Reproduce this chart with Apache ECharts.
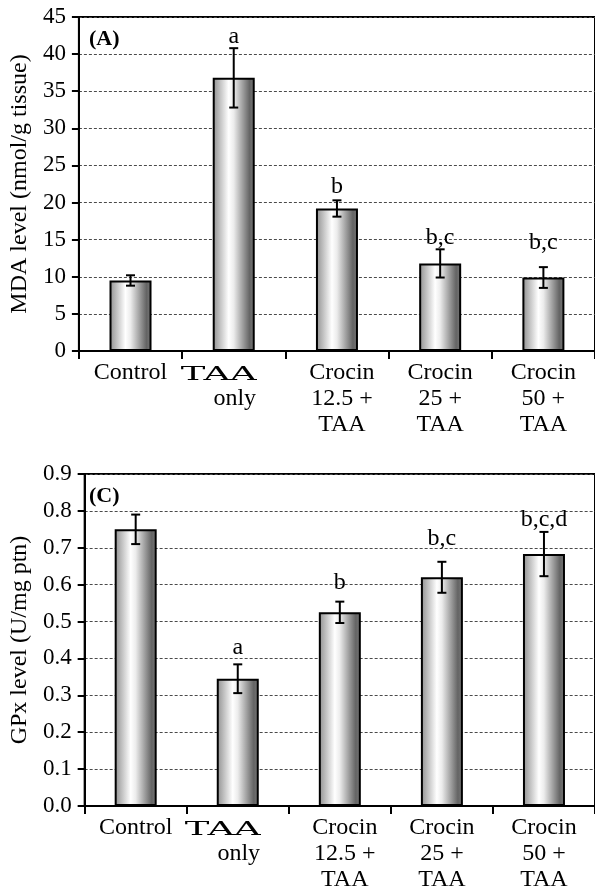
<!DOCTYPE html>
<html><head><meta charset="utf-8">
<script src="https://cdn.jsdelivr.net/npm/echarts@6/dist/echarts.min.js"></script>
<style>html,body{margin:0;padding:0;background:#fff}#c{width:595px;height:894px}</style>
</head><body><div id="c"></div>
<script>
// ---- data ----
const categories = ['Control', 'TAA\nonly', 'Crocin\n12.5 +\nTAA', 'Crocin\n25 +\nTAA', 'Crocin\n50 +\nTAA'];
const mdaMeans  = [9.5, 36.8, 19.2, 11.8, 9.9];
const mdaErrors = [0.7, 4.0, 1.1, 1.9, 1.4];
const mdaLetters = ['', 'a', 'b', 'b,c', 'b,c'];
const gpxMeans  = [0.750, 0.345, 0.525, 0.620, 0.683];
const gpxErrors = [0.040, 0.039, 0.029, 0.042, 0.060];
const gpxLetters = ['', 'a', 'b', 'b,c', 'b,c,d'];
const mdaAxis = { min: 0, max: 45, interval: 5 };
const gpxAxis = { min: 0, max: 0.9, interval: 0.1 };
const panelTags = ['(A)', '(C)'];
const yNames = ['MDA level (nmol/g tissue)', 'GPx level (U/mg ptn)'];

// ---- layout / style ----
const FONT = 'Liberation Serif';
const mdaLetterGap = [0, 4, 7, 5, 17];   // px between letter baseline and error bar top
const gpxLetterGap = [0, 10, 12, 16, 5];

const barFill = new echarts.graphic.LinearGradient(0, 0, 1, 0, [
  { offset: 0, color: '#8e8e8e' },
  { offset: 0.38, color: '#ffffff' },
  { offset: 0.5, color: '#ececec' },
  { offset: 0.88, color: '#646464' },
  { offset: 1, color: '#7a7a7a' }
]);

// category 1's first line ("TAA") is drawn in a wide display face below
function xLabel(value, idx) {
  if (idx === 1) {
    const p = value.split('\n');
    return '{sp| }\n{o|' + p[1] + '}';
  }
  if (idx === 2) {
    return value.split('\n').map(s => '{p|' + s + '}').join('\n');
  }
  return value;
}

const richLabel = {
  sp: { fontFamily: FONT, fontSize: 24, lineHeight: 26, color: '#000' },
  o:  { fontFamily: FONT, fontSize: 24, padding: [0, 0, 0, 2], lineHeight: 26, color: '#000' },
  p:  { fontFamily: FONT, fontSize: 24, padding: [0, 0, 0, 10], lineHeight: 26, color: '#000' }
};

function xAxisCfg(gi) {
  return {
    type: 'category', gridIndex: gi, data: categories,
    axisLine: { lineStyle: { color: '#000', width: 2 } },
    axisTick: { show: true, length: 8, lineStyle: { color: '#000', width: 2 } },
    axisLabel: { interval: 0, margin: 9, fontFamily: FONT, fontSize: 24, color: '#000', lineHeight: 26,
                 formatter: xLabel, rich: richLabel },
    splitLine: { show: false }
  };
}
function yAxisCfg(gi, ax, name, gap, fmt) {
  return {
    type: 'value', gridIndex: gi, min: ax.min, max: ax.max, interval: ax.interval,
    name: name, nameLocation: 'middle', nameGap: gap, nameRotate: 90,
    nameTextStyle: { fontFamily: FONT, fontSize: 24, color: '#000' },
    axisLine: { show: true, lineStyle: { color: '#000', width: 2 } },
    axisTick: { show: true, length: 7, lineStyle: { color: '#000', width: 2 } },
    axisLabel: { margin: 13, fontFamily: FONT, fontSize: 23, color: '#000', formatter: fmt },
    splitLine: { show: true, lineStyle: { color: '#4a4a4a', width: 1, type: [3, 2] } }
  };
}

function errorSeries(gi, means, errs, letters, gaps) {
  return {
    type: 'custom', xAxisIndex: gi, yAxisIndex: gi, z: 10,
    data: means.map((m, i) => [i, m, errs[i]]),
    renderItem: function (params, api) {
      const i = api.value(0), m = api.value(1), e = api.value(2);
      const top = api.coord([i, m + e]);
      const bot = api.coord([i, m - e]);
      const hw = 4.5;
      const st = { stroke: '#000', lineWidth: 2 };
      const children = [
        { type: 'line', shape: { x1: top[0], y1: top[1], x2: bot[0], y2: bot[1] }, style: st },
        { type: 'line', shape: { x1: top[0] - hw, y1: top[1], x2: top[0] + hw, y2: top[1] }, style: st },
        { type: 'line', shape: { x1: bot[0] - hw, y1: bot[1], x2: bot[0] + hw, y2: bot[1] }, style: st }
      ];
      const txt = letters[params.dataIndex];
      if (txt) {
        children.push({ type: 'text', x: top[0], y: top[1] - gaps[params.dataIndex] + 5,
          style: { text: txt, fontFamily: FONT, fontSize: 24, fill: '#000', align: 'center', verticalAlign: 'bottom' } });
      }
      return { type: 'group', children: children };
    }
  };
}

function barSeries(gi, means) {
  return {
    type: 'bar', xAxisIndex: gi, yAxisIndex: gi, data: means, barWidth: 42,
    itemStyle: { color: barFill, borderColor: '#000', borderWidth: 2 },
    emphasis: { disabled: true }, animation: false
  };
}

const chart = echarts.init(document.getElementById('c'), null, { renderer: 'canvas' });
chart.setOption({
  animation: false,
  backgroundColor: '#fff',
  grid: [
    { left: 77, top: 17, width: 522, height: 334, show: true, borderColor: '#000', borderWidth: 2, backgroundColor: 'transparent' },
    { left: 77, top: 474, width: 522, height: 332, show: true, borderColor: '#000', borderWidth: 2, backgroundColor: 'transparent' }
  ],
  xAxis: [xAxisCfg(0), xAxisCfg(1)],
  yAxis: [
    yAxisCfg(0, mdaAxis, yNames[0], 40, v => String(v)),
    yAxisCfg(1, gpxAxis, yNames[1], 46, v => v.toFixed(1))
  ],
  series: [
    barSeries(0, mdaMeans),
    errorSeries(0, mdaMeans, mdaErrors, mdaLetters, mdaLetterGap),
    barSeries(1, gpxMeans),
    errorSeries(1, gpxMeans, gpxErrors, gpxLetters, gpxLetterGap)
  ]
});

// panel tags and the wide "TAA" first line of category 1, placed from the axes
const graphics = [];
[0, 1].forEach(function (gi) {
  const x1 = chart.convertToPixel({ xAxisIndex: gi }, 1);
  const y0 = chart.convertToPixel({ yAxisIndex: gi }, 0);
  const yTop = chart.convertToPixel({ yAxisIndex: gi }, gi === 0 ? mdaAxis.max : gpxAxis.max);
  graphics.push({ type: 'text', x: 89, y: yTop + 22,
    style: { text: panelTags[gi], fontFamily: FONT, fontWeight: 'bold', fontSize: 22, fill: '#000', verticalAlign: 'middle' } });
  graphics.push({ type: 'text', x: x1 + 23, y: y0 + 24, scaleX: 2.05,
    style: { text: categories[1].split('\n')[0], fontFamily: 'DejaVu Serif', fontSize: 18, fill: '#000', align: 'right', verticalAlign: 'middle' } });
});
chart.setOption({ graphic: graphics });
</script>
</body></html>
